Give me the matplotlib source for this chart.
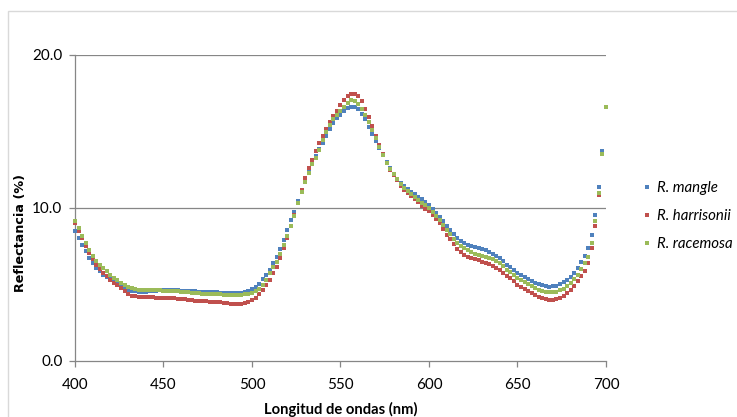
import matplotlib
matplotlib.use("Agg")
import matplotlib.pyplot as plt
from matplotlib.patches import Rectangle

# Wavelengths (nm), one reading every 2 nm
wavelength = list(range(400, 701, 2))

# Reflectance (%) of the three mangrove species
r_mangle = [
    8.50, 8.03, 7.55, 7.16, 6.75, 6.40, 6.08, 5.85, 5.65, 5.50,
    5.38, 5.22, 5.05, 4.92, 4.78, 4.66, 4.58, 4.55, 4.53, 4.52,
    4.53, 4.55, 4.58, 4.60, 4.62, 4.63, 4.63, 4.62, 4.62, 4.61,
    4.60, 4.58, 4.57, 4.56, 4.55, 4.54, 4.52, 4.51, 4.50, 4.49,
    4.48, 4.47, 4.46, 4.45, 4.44, 4.43, 4.43, 4.45, 4.50, 4.58,
    4.69, 4.85, 5.05, 5.35, 5.62, 5.96, 6.40, 6.80, 7.30, 7.90,
    8.58, 9.20, 9.75, 10.45, 11.20, 11.85, 12.40, 12.95, 13.40, 13.85,
    14.26, 14.70, 15.15, 15.55, 15.85, 16.10, 16.35, 16.52, 16.60, 16.58,
    16.44, 16.15, 15.80, 15.30, 14.85, 14.35, 13.90, 13.45, 13.00, 12.60,
    12.25, 11.90, 11.65, 11.45, 11.25, 11.05, 10.90, 10.75, 10.58, 10.40,
    10.20, 9.95, 9.70, 9.42, 9.12, 8.80, 8.55, 8.30, 8.05, 7.85,
    7.70, 7.58, 7.50, 7.43, 7.37, 7.31, 7.24, 7.15, 7.02, 6.88,
    6.72, 6.52, 6.30, 6.12, 5.92, 5.75, 5.62, 5.48, 5.36, 5.24,
    5.13, 5.03, 4.95, 4.89, 4.86, 4.87, 4.92, 5.02, 5.15, 5.32,
    5.52, 5.78, 6.08, 6.45, 6.85, 7.38, 8.25, 9.56, 11.40, 13.70,
    16.60,
]

r_harrisonii = [
    9.02, 8.52, 8.01, 7.52, 7.08, 6.65, 6.28, 6.00, 5.78, 5.55,
    5.30, 5.12, 4.95, 4.75, 4.55, 4.38, 4.28, 4.22, 4.19, 4.17,
    4.16, 4.16, 4.16, 4.15, 4.15, 4.15, 4.13, 4.11, 4.09, 4.07,
    4.05, 4.03, 4.00, 3.97, 3.94, 3.92, 3.91, 3.90, 3.88, 3.87,
    3.86, 3.84, 3.81, 3.78, 3.75, 3.73, 3.72, 3.73, 3.78, 3.87,
    4.00, 4.15, 4.38, 4.65, 4.95, 5.30, 5.75, 6.15, 6.75, 7.40,
    8.05, 8.80, 9.55, 10.35, 11.20, 11.95, 12.60, 13.15, 13.70, 14.25,
    14.70, 15.15, 15.60, 16.00, 16.35, 16.70, 17.05, 17.35, 17.47, 17.45,
    17.30, 17.00, 16.45, 15.95, 15.35, 14.70, 14.10, 13.50, 12.95, 12.50,
    12.15, 11.80, 11.45, 11.15, 10.95, 10.76, 10.58, 10.38, 10.15, 9.95,
    9.78, 9.55, 9.30, 9.00, 8.65, 8.25, 7.95, 7.62, 7.35, 7.10,
    6.94, 6.82, 6.72, 6.64, 6.57, 6.50, 6.42, 6.33, 6.22, 6.10,
    5.96, 5.78, 5.58, 5.42, 5.20, 4.98, 4.86, 4.73, 4.59, 4.45,
    4.32, 4.20, 4.10, 4.04, 4.00, 4.00, 4.04, 4.12, 4.25, 4.42,
    4.65, 4.92, 5.22, 5.55, 5.90, 6.40, 7.38, 8.84, 10.85, 13.50,
    16.60,
]

r_racemosa = [
    9.17, 8.67, 8.20, 7.72, 7.28, 6.85, 6.52, 6.28, 6.05, 5.85,
    5.63, 5.45, 5.28, 5.12, 4.95, 4.83, 4.74, 4.69, 4.67, 4.66,
    4.65, 4.64, 4.63, 4.62, 4.61, 4.60, 4.59, 4.58, 4.57, 4.55,
    4.52, 4.50, 4.48, 4.47, 4.45, 4.43, 4.41, 4.40, 4.39, 4.38,
    4.37, 4.35, 4.33, 4.31, 4.30, 4.30, 4.30, 4.32, 4.35, 4.38,
    4.43, 4.55, 4.72, 4.98, 5.30, 5.74, 6.15, 6.50, 7.00, 7.55,
    8.14, 8.80, 9.50, 10.30, 11.05, 11.70, 12.30, 12.85, 13.30, 13.80,
    14.45, 14.95, 15.40, 15.80, 16.10, 16.33, 16.62, 16.88, 17.03, 17.02,
    16.83, 16.50, 16.05, 15.60, 15.10, 14.55, 14.00, 13.45, 12.95, 12.55,
    12.25, 11.90, 11.55, 11.30, 11.10, 10.90, 10.72, 10.55, 10.35, 10.18,
    10.00, 9.75, 9.50, 9.20, 8.90, 8.58, 8.28, 7.98, 7.70, 7.50,
    7.38, 7.24, 7.12, 7.02, 6.95, 6.88, 6.81, 6.74, 6.65, 6.53,
    6.40, 6.20, 5.98, 5.80, 5.60, 5.41, 5.28, 5.15, 5.02, 4.89,
    4.76, 4.66, 4.58, 4.53, 4.50, 4.50, 4.54, 4.61, 4.72, 4.88,
    5.09, 5.35, 5.65, 6.00, 6.38, 6.83, 7.70, 9.13, 11.00, 13.56,
    16.60,
]

species = ["R. mangle", "R. harrisonii", "R. racemosa"]
colors = ["#4F81BD", "#C0504D", "#9BBB59"]
x_ticks = [400, 450, 500, 550, 600, 650, 700]
y_ticks = [0.0, 10.0, 20.0]

W, H = 737, 417
fig = plt.figure(figsize=(W / 100, H / 100), dpi=100)
fig.patch.set_facecolor("white")

# light chart-area frame
fig.patches.append(Rectangle((8 / W, -0.2), 1.2, 1 - 11 / H + 0.2,
                             transform=fig.transFigure, fill=False,
                             edgecolor="#D9D9D9", linewidth=1.0, zorder=0))

ax = fig.add_axes([75 / W, 1 - 361 / H, (606 - 75) / W, (361 - 55) / H])

for ys, name, c in zip([r_mangle, r_harrisonii, r_racemosa], species, colors):
    ax.plot(wavelength, ys, linestyle="none", marker="s", markersize=2.2,
            markeredgewidth=0, color=c, label=name, clip_on=False, zorder=3)

ax.set_xlim(400, 700)
ax.set_ylim(0, 20)
ax.set_xticks(x_ticks)
ax.set_yticks(y_ticks)
ax.set_yticklabels([f"{v:.1f}" for v in y_ticks])

grid_c = "#868686"
for v in y_ticks[1:]:
    ax.axhline(v, color=grid_c, linewidth=0.9, zorder=1)
for side in ["top", "right"]:
    ax.spines[side].set_visible(False)
for side in ["left", "bottom"]:
    ax.spines[side].set_color(grid_c)
    ax.spines[side].set_linewidth(0.9)

tick_family = ["Lato", "DejaVu Sans"]
ax.tick_params(axis="both", colors=grid_c, length=4, width=0.9, direction="out")
for lab in ax.get_xticklabels() + ax.get_yticklabels():
    lab.set_fontfamily(tick_family)
    lab.set_fontsize(11)
    lab.set_color("#000000")
ax.tick_params(axis="x", pad=8)
ax.tick_params(axis="y", pad=5)

fig.text(341 / W, 1 - 409 / H, "Longitud de ondas (nm)", ha="center", va="center",
         fontsize=10.6, fontweight="bold", family=tick_family)
fig.text(21 / W, 1 - 233 / H, "Reflectancia (%)", ha="center", va="center",
         rotation=90, fontsize=9.2, fontweight="bold", family=["DejaVu Sans"])

leg = ax.legend(loc="upper left", bbox_to_anchor=(643 / W, 1 - 181 / H),
                bbox_transform=fig.transFigure, frameon=False,
                prop={"family": tick_family, "style": "italic", "size": 10.8},
                handlelength=0.5, handletextpad=0.45, labelspacing=0.95,
                markerscale=1.0, borderpad=0, borderaxespad=0)

fig.savefig("out.png", dpi=100)
